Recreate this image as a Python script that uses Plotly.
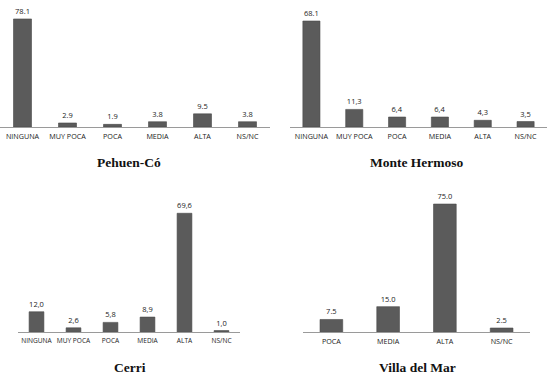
import plotly.graph_objects as go

cats6 = ["NINGUNA", "MUY POCA", "POCA", "MEDIA", "ALTA", "NS/NC"]
cats4 = ["POCA", "MEDIA", "ALTA", "NS/NC"]

pehuen_vals = [78.1, 2.9, 1.9, 3.8, 9.5, 3.8]
pehuen_text = ["78.1", "2.9", "1.9", "3.8", "9.5", "3.8"]

monte_vals = [68.1, 11.3, 6.4, 6.4, 4.3, 3.5]
monte_text = ["68.1", "11,3", "6,4", "6,4", "4,3", "3,5"]

cerri_vals = [12.0, 2.6, 5.8, 8.9, 69.6, 1.0]
cerri_text = ["12,0", "2,6", "5,8", "8,9", "69,6", "1,0"]

villa_vals = [7.5, 15.0, 75.0, 2.5]
villa_text = ["7.5", "15.0", "75.0", "2.5"]

titles = ["Pehuen-Có", "Monte Hermoso", "Cerri", "Villa del Mar"]

W, H = 557, 379
BAR = "#5b5b5b"
TXT = "#222222"
SANS = "Open Sans, Liberation Sans, sans-serif"

panels = [
    (cats6, pehuen_vals, pehuen_text, (0 / W, 270 / W), (1 - 127 / H, 1 - 2.5 / H), 90, 7.2),
    (cats6, monte_vals, monte_text, (290 / W, 547 / W), (1 - 127 / H, 1 - 2.5 / H), 80, 7.2),
    (cats6, cerri_vals, cerri_text, (18 / W, 240 / W), (1 - 332.3 / H, 1 - 195.5 / H), 80, 6.6),
    (cats4, villa_vals, villa_text, (303 / W, 530 / W), (1 - 332.3 / H, 1 - 195.5 / H), 80, 7.2),
]

fig = go.Figure()
layout = dict(
    width=W, height=H, margin=dict(l=0, r=0, t=0, b=0),
    paper_bgcolor="white", plot_bgcolor="white", showlegend=False,
)

for i, (cats, vals, txt, xd, yd, ymax, fs) in enumerate(panels):
    n = "" if i == 0 else str(i + 1)
    fig.add_trace(go.Bar(
        x=cats, y=vals, text=txt, textposition="outside",
        textfont=dict(family=SANS, size=7.5, color=TXT),
        cliponaxis=False,
        marker=dict(color=BAR, line=dict(color="#4a4a4a", width=0.6)),
        width=0.4,
        xaxis="x" + n, yaxis="y" + n, hoverinfo="skip",
    ))
    layout["xaxis" + n] = dict(
        domain=list(xd), anchor="y" + n, showline=True, linecolor="#9a9a9a", linewidth=1,
        showgrid=False, zeroline=False, ticks="outside", ticklen=2,
        tickcolor="rgba(0,0,0,0)", tickangle=0,
        tickfont=dict(family=SANS, size=fs, color=TXT),
        range=[-0.5, len(cats) - 0.5], fixedrange=True,
    )
    layout["yaxis" + n] = dict(
        domain=list(yd), anchor="x" + n, range=[0, ymax], visible=False,
        showgrid=False, zeroline=False, fixedrange=True,
    )

ann = []
tpos = [(129 / W, 1 - 163 / H), (417 / W, 1 - 163 / H), (129.5 / W, 1 - 367.7 / H), (417 / W, 1 - 367.7 / H)]
for t, (ax, ay) in zip(titles, tpos):
    ann.append(dict(text="<b>" + t + "</b>", x=ax, y=ay, xref="paper", yref="paper",
                    xanchor="center", yanchor="middle", showarrow=False,
                    font=dict(family="Liberation Serif, Times New Roman, serif", size=13.5, color="#111111")))
layout["annotations"] = ann

fig.update_layout(**layout)
fig.write_html("out.html", config={"displayModeBar": False},
               post_script="document.body.style.margin='0';document.body.style.overflow='hidden';")
